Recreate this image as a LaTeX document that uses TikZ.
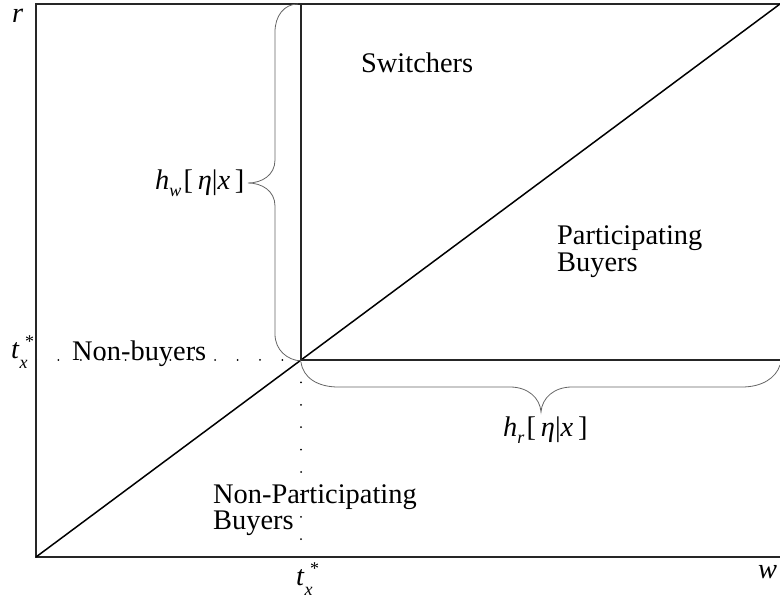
\documentclass[tikz,border=0pt]{standalone}
\usepackage{fontspec}
\setmainfont{Liberation Serif}
\newcommand{\subsz}{\fontsize{18}{18}\selectfont}
\newcommand{\txstar}{\textit{t}\rlap{\raisebox{-0.32em}{\subsz\textit{x}}}\raisebox{0.42em}{\subsz\hspace{0.3em}*}}
\newcommand{\hlab}[1]{\textit{h}\raisebox{-0.24em}{\subsz\textit{#1}}\hspace{0.08em}[\,\textit{η}|\textit{x}\,]}
\begin{document}
\begin{tikzpicture}[x=1pt,y=-1pt,
  frame/.style={draw=black!85, line width=1.8pt},
  diag/.style={draw=black, line width=1.5pt},
  dots/.style={draw=black, line width=2pt, dash pattern=on 0pt off 22.4pt, line cap=round},
  bracestyle/.style={draw=black!60, line width=0.8pt},
  lbl/.style={inner sep=0pt, anchor=base west, font=\fontsize{28.4}{27}\selectfont},
]
\useasboundingbox (0,0) rectangle (780,601);
\coordinate (O) at (36,557);
\coordinate (TL) at (36,4);
\coordinate (TR) at (780,4);
\coordinate (BR) at (780,557);
\coordinate (C) at (301,360);
\coordinate (CT) at (301,4);
\coordinate (CR) at (780,360);
\coordinate (CL) at (36,360);
\coordinate (CB) at (301,557);

% dotted guide lines
\draw[dots] (CL) -- (C);
\draw[dots] (C) -- (CB);

% frame and lines
\draw[frame] (TR) -- (TL) -- (O) -- (BR);
\draw[diag] (O) -- (TR);
\draw[frame] (CT) -- (C) -- (CR);

% vertical brace
\draw[bracestyle] (298,4) .. controls (284,4) and (275,16) .. (275,32) -- (275,160)
  .. controls (275,175) and (262,183) .. (248,183)
  .. controls (262,183) and (275,191) .. (275,206) -- (275,334)
  .. controls (275,350) and (287,360) .. (301,361);
% horizontal brace
\draw[bracestyle] (301,362) .. controls (303,378) and (318,387) .. (338,387) -- (510,387)
  .. controls (528,387) and (540,398) .. (541,412)
  .. controls (542,398) and (554,387) .. (572,387) -- (742,387)
  .. controls (762,387) and (776,378) .. (780,365);

% labels
\node[lbl] (r) at (12,23) {\textit{r}};
\node[lbl] (w) at (758,579) {\textit{w}};
\node[lbl] (tl) at (11,359) {\txstar};
\node[lbl] (tb) at (296,586) {\txstar};
\node[lbl] (hw) at (155,190) {\hlab{w}};
\node[lbl] (hr) at (503,437) {\hlab{r}};
\node[lbl] (sw) at (361,73) {Switchers};
\node[lbl] (pb1) at (557,245) {Participating};
\node[lbl] (pb2) at (557,272) {Buyers};
\node[lbl] (nb) at (72,361) {Non-buyers};
\node[lbl] (npb1) at (213,504) {Non-Participating};
\node[lbl] (npb2) at (213,530) {Buyers};
\end{tikzpicture}
\end{document}
